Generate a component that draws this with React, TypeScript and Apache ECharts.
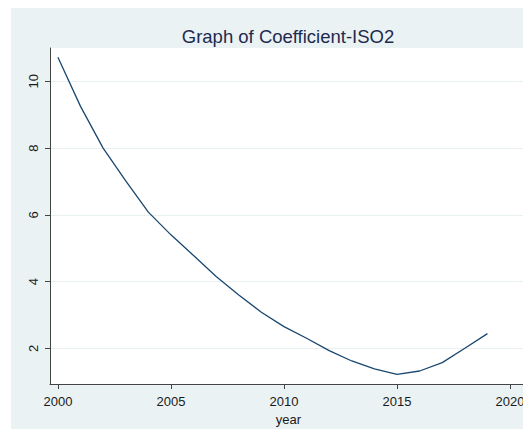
import React, { useEffect, useRef } from "react";
import * as echarts from "echarts";

const years = [2000, 2001, 2002, 2003, 2004, 2005, 2006, 2007, 2008, 2009, 2010, 2011, 2012, 2013, 2014, 2015, 2016, 2017, 2018, 2019];
const coef = [10.72, 9.25, 8.0, 7.02, 6.08, 5.4, 4.78, 4.15, 3.6, 3.08, 2.65, 2.3, 1.93, 1.62, 1.38, 1.22, 1.32, 1.57, 2.0, 2.44];
const xTicks = [2000, 2005, 2010, 2015, 2020];
const yTicks = [2, 4, 6, 8, 10];

export default function App() {
  const ref = useRef<HTMLDivElement>(null);
  useEffect(() => {
    if (!ref.current) return;
    const chart = echarts.init(ref.current, null, { renderer: "svg" });
    const font = "'Liberation Sans', Arial, sans-serif";
    chart.setOption({
      animation: false,
      backgroundColor: "#ffffff",
      graphic: [
        {
          type: "rect",
          z: -10,
          silent: true,
          shape: { x: 11, y: 5, width: 520, height: 431 },
          style: { fill: "#EAF2F3" },
        },
      ],
      title: {
        text: "Graph of Coefficient-ISO2",
        left: 283,
        textAlign: "center",
        top: 22,
        textStyle: { fontFamily: font, fontSize: 18.5, fontWeight: "normal", color: "#1E2A4E" },
      },
      grid: {
        left: 50,
        top: 48,
        right: 4,
        bottom: 53,
        show: true,
        backgroundColor: "#ffffff",
        borderWidth: 0,
      },
      xAxis: {
        type: "value",
        min: 1999.65,
        max: 2020.75,
        name: "year",
        nameLocation: "middle",
        nameGap: 28,
        nameTextStyle: { fontFamily: font, fontSize: 13, color: "#1a1a1a" },
        axisLine: { show: true, onZero: false, lineStyle: { color: "#444", width: 1 } },
        axisTick: { show: true, length: 5, lineStyle: { color: "#444" }, customValues: xTicks },
        axisLabel: { fontFamily: font, fontSize: 13, color: "#1a1a1a", margin: 11, customValues: xTicks, formatter: (v: number) => String(v) },
        splitLine: { show: false },
      },
      yAxis: {
        type: "value",
        min: 0.93,
        max: 11.0,
        axisLine: { show: true, onZero: false, lineStyle: { color: "#444", width: 1 } },
        axisTick: { show: true, length: 5, lineStyle: { color: "#444" }, customValues: yTicks },
        axisLabel: { fontFamily: font, fontSize: 13, color: "#1a1a1a", margin: 10, rotate: 90, customValues: yTicks },
        splitLine: { show: true, lineStyle: { color: "#E8F0F2", width: 1 } },
      },
      series: [
        {
          type: "line",
          data: years.map((y, i) => [y, coef[i]]),
          showSymbol: false,
          symbol: "none",
          lineStyle: { color: "#1A476F", width: 1.3 },
        },
      ],
    });
    return () => chart.dispose();
  }, []);
  return <div ref={ref} style={{ width: 531, height: 437, margin: -8 }} />;
}
